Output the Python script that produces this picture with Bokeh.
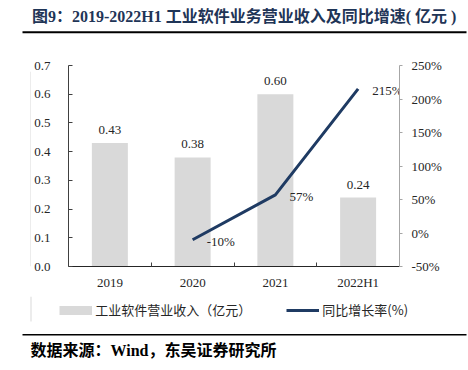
from bokeh.plotting import figure
from bokeh.layouts import column, row
from bokeh.models import (Range1d, LinearAxis, FixedTicker, PrintfTickFormatter,
                          Label, BoxAnnotation, Legend, LegendItem)
from bokeh.core.properties import value
from bokeh.embed import file_html
from bokeh.resources import INLINE

# ---- data ----
categories = ["2019", "2020", "2021", "2022H1"]
revenue = [0.43, 0.38, 0.60, 0.24]
growth_categories = ["2020", "2021", "2022H1"]
growth = [-10, 57, 215]
left_ticks = [0.0, 0.1, 0.2, 0.3, 0.4, 0.5, 0.6, 0.7]
right_ticks = [-50, 0, 50, 100, 150, 200, 250]
title_text = "图9：2019-2022H1 工业软件业务营业收入及同比增速( 亿元 )"
source_text = "数据来源：Wind，东吴证券研究所"
bar_legend = "工业软件营业收入（亿元）"
line_legend = "同比增长率(%)"

# ---- positions derived from categories ----
centers = [float(i) + 0.5 for i in range(len(categories))]
growth_x = [centers[categories.index(c)] for c in growth_categories]
bounds = [float(i) for i in range(1, len(categories))]

SERIF = "'Liberation Serif', 'Noto Sans CJK SC'"
TXT = "#262626"
BAR = "#d9d9d9"
LINE = "#1f3b63"
FAINT = "#d9d9d9"


def blank(w, h):
    f = figure(width=w, height=h, output_backend="svg", toolbar_location=None,
               x_range=Range1d(0, w), y_range=Range1d(h, 0),
               x_axis_location=None, y_axis_location=None, min_border=0)
    f.outline_line_color = None
    f.grid.visible = False
    return f


def rule(f, left, right, top, bottom, color):
    f.add_layout(BoxAnnotation(left=left, right=right, top=top, bottom=bottom,
                               fill_color=color, fill_alpha=1, line_color=None))


# ---- title strip ----
head = blank(468, 40)
head.add_layout(Label(x=31.5, y=15.5, text=title_text, text_font=SERIF,
                      text_font_size="16px", text_font_style="bold",
                      text_color="#1f3557", text_baseline="middle"))
rule(head, 22, 466, 30.7, 32.7, "black")

# ---- left faint border strip ----
strip = blank(31, 256)
rule(strip, 30, 31, 8, 256, FAINT)

# ---- main chart ----
p = figure(width=437, height=256, output_backend="svg", toolbar_location=None,
           x_range=Range1d(0, len(categories)), y_range=Range1d(0, 0.7),
           min_border_left=36, min_border_right=69, min_border_top=25, min_border_bottom=30)
p.extra_y_ranges = {"pct": Range1d(-50, 250)}
p.outline_line_color = None
p.grid.visible = False

ya = p.yaxis[0]
ya.ticker = FixedTicker(ticks=left_ticks)
ya.formatter = PrintfTickFormatter(format="%.1f")
ya.major_tick_in = 4
ya.major_tick_out = 0
ya.minor_tick_line_color = None
ya.axis_line_color = "#404040"
ya.major_tick_line_color = "#404040"
ya.major_label_standoff = 18
ya.major_label_text_font = SERIF
ya.major_label_text_font_size = "13px"
ya.major_label_text_color = TXT

xa = p.xaxis[0]
xa.ticker = FixedTicker(ticks=centers, minor_ticks=bounds)
xa.major_label_overrides = {c: lab for c, lab in zip(centers, categories)}
xa.major_tick_line_color = None
xa.minor_tick_in = 4
xa.minor_tick_out = 0
xa.minor_tick_line_color = "#404040"
xa.axis_line_color = "#262626"
xa.major_label_standoff = 2
xa.major_label_text_font = SERIF
xa.major_label_text_font_size = "13px"
xa.major_label_text_color = TXT

ra = LinearAxis(y_range_name="pct", ticker=FixedTicker(ticks=right_ticks),
                formatter=PrintfTickFormatter(format="%d%%"))
ra.major_tick_in = 0
ra.major_tick_out = 3
ra.minor_tick_line_color = None
ra.axis_line_color = "#a6a6a6"
ra.major_tick_line_color = "#a6a6a6"
ra.major_label_standoff = 9
ra.major_label_text_font = SERIF
ra.major_label_text_font_size = "13px"
ra.major_label_text_color = TXT
p.add_layout(ra, "right")

p.vbar(x=centers, top=revenue, width=0.435, fill_color=BAR, line_color=None)
p.text(x=centers, y=revenue, text=[f"{v:.2f}" for v in revenue],
       text_align="center", text_baseline="alphabetic", y_offset=-13,
       text_font=value(SERIF), text_font_size="13px", text_color=TXT)

p.line(x=growth_x, y=growth, y_range_name="pct", line_width=3, line_color=LINE)
p.text(x=growth_x, y=growth, y_range_name="pct", text=[f"{g}%" for g in growth],
       text_align="left", text_baseline="middle", x_offset=14, y_offset=2,
       text_font=value(SERIF), text_font_size="13px", text_color=TXT)

# ---- footer: legend, rule, source ----
foot = blank(468, 74)
rule(foot, 30, 31, 0, 25, FAINT)
# one-point key renderers (draw nothing themselves, only their legend swatches)
bar_key = foot.line(x=[0], y=[0], line_color=BAR, line_width=9, line_cap="butt")
line_key = foot.line(x=[0], y=[0], line_color=LINE, line_width=3, line_cap="butt")
legend = Legend(items=[LegendItem(label=bar_legend, renderers=[bar_key]),
                       LegendItem(label=line_legend, renderers=[line_key])],
                orientation="horizontal", location=(59.3, 50.3),
                glyph_width=33, glyph_height=20, label_height=20,
                label_standoff=3, spacing=35,
                padding=0, margin=0, border_line_color=None, background_fill_alpha=0,
                label_text_font="Noto Sans CJK SC", label_text_font_size="13px",
                label_text_color=TXT)
foot.add_layout(legend, "center")
rule(foot, 22, 466, 37.5, 39, "black")
foot.add_layout(Label(x=30, y=54, text=source_text, text_font=SERIF,
                      text_font_size="16px", text_font_style="bold",
                      text_color="black", text_baseline="middle"))

layout = column(head, row(strip, p), foot)
open("out.html", "w").write(file_html(layout, INLINE))
